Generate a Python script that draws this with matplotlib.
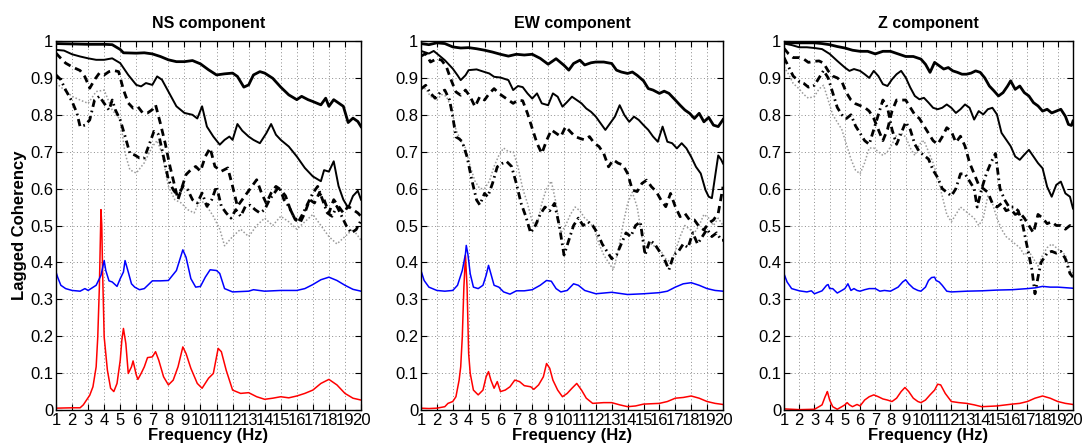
import numpy as np
import matplotlib
matplotlib.use("Agg")
import matplotlib.pyplot as plt
from matplotlib.ticker import FormatStrFormatter

plt.rcParams["font.family"] = ["Liberation Sans", "DejaVu Sans"]

# ---------------- NS component ----------------
ns_top_f = [1, 2, 3, 4, 4.5, 5, 5.2, 6, 6.5, 7, 7.5, 8, 8.5, 9, 9.5, 10, 10.5, 11, 11.5, 12, 12.3, 12.7, 13,
            13.3, 13.7, 14, 14.5, 15, 15.5, 16, 16.3, 16.7, 17, 17.5, 17.8, 18, 18.3, 18.6, 18.9, 19.2, 19.5, 19.8, 20]
ns_top_v = [0.993, 0.992, 0.991, 0.991, 0.99, 0.977, 0.968, 0.967, 0.968, 0.965, 0.958, 0.949, 0.944, 0.944, 0.947,
            0.938, 0.922, 0.908, 0.911, 0.913, 0.904, 0.875, 0.881, 0.908, 0.917, 0.913, 0.899, 0.875, 0.854, 0.841,
            0.85, 0.841, 0.836, 0.827, 0.845, 0.823, 0.841, 0.832, 0.823, 0.779, 0.791, 0.782, 0.768]

ns_sol_f = [1, 1.5, 2, 2.5, 3, 3.5, 4, 4.5, 5, 5.5, 6, 6.3, 6.6, 7, 7.3, 7.6, 8, 8.5, 9, 9.5, 9.8, 10.1, 10.4, 10.8,
            11.2, 11.5, 11.8, 12, 12.3, 12.6, 13, 13.3, 13.7, 14.1, 14.4, 14.7, 15, 15.5, 16, 16.5, 17, 17.5, 17.7,
            18, 18.3, 18.6, 18.9, 19.2, 19.5, 19.8, 20]
ns_sol_v = [0.976, 0.974, 0.964, 0.958, 0.953, 0.949, 0.949, 0.953, 0.94, 0.908, 0.881, 0.877, 0.886, 0.881, 0.904,
            0.895, 0.863, 0.823, 0.805, 0.8, 0.79, 0.823, 0.768, 0.741, 0.719, 0.732, 0.741, 0.732, 0.775, 0.757,
            0.741, 0.732, 0.723, 0.75, 0.775, 0.746, 0.732, 0.714, 0.687, 0.656, 0.633, 0.62, 0.65, 0.646, 0.674,
            0.607, 0.57, 0.548, 0.58, 0.594, 0.57]

ns_dash_f = [1, 1.3, 1.6, 2, 2.5, 2.8, 3.1, 3.4, 3.7, 4, 4.3, 4.6, 4.9, 5.2, 5.5, 5.8, 6.1, 6.4, 6.7, 7, 7.2, 7.5,
             7.8, 8.1, 8.4, 8.6, 8.8, 9.1, 9.4, 9.7, 10, 10.3, 10.6, 10.9, 11.3, 11.7, 12, 12.3, 12.6, 12.9, 13.2,
             13.5, 13.8, 14.1, 14.4, 14.7, 15, 15.3, 15.6, 15.9, 16.2, 16.5, 16.8, 17.1, 17.4, 17.7, 18, 18.3,
             18.6, 18.9, 19.2, 19.5, 19.8, 20]
ns_dash_v = [0.967, 0.953, 0.94, 0.93, 0.92, 0.903, 0.872, 0.895, 0.913, 0.908, 0.917, 0.92, 0.917, 0.868, 0.832,
             0.818, 0.822, 0.805, 0.805, 0.814, 0.827, 0.777, 0.723, 0.66, 0.606, 0.57, 0.597, 0.638, 0.651, 0.66,
             0.647, 0.687, 0.71, 0.66, 0.647, 0.656, 0.606, 0.552, 0.57, 0.588, 0.606, 0.624, 0.588, 0.56, 0.588,
             0.606, 0.597, 0.58, 0.543, 0.516, 0.507, 0.534, 0.57, 0.561, 0.588, 0.57, 0.534, 0.57, 0.552, 0.534,
             0.552, 0.543, 0.534, 0.525]

ns_dd_f = [1, 1.3, 1.6, 2, 2.3, 2.5, 2.8, 3.1, 3.4, 3.7, 4, 4.3, 4.5, 4.7, 5, 5.3, 5.6, 5.9, 6.2, 6.5, 6.8, 7.1,
           7.4, 7.7, 8, 8.3, 8.6, 8.9, 9.2, 9.5, 9.8, 10.1, 10.4, 10.7, 11, 11.3, 11.6, 11.9, 12.2, 12.5, 12.8,
           13.1, 13.4, 13.7, 14, 14.3, 14.6, 14.9, 15.2, 15.5, 15.8, 16.1, 16.4, 16.7, 17, 17.3, 17.6, 17.9, 18.2,
           18.5, 18.8, 19.1, 19.4, 19.7, 20]
ns_dd_v = [0.908, 0.895, 0.867, 0.836, 0.805, 0.768, 0.772, 0.786, 0.84, 0.85, 0.831, 0.813, 0.84, 0.813, 0.786,
           0.742, 0.696, 0.691, 0.683, 0.683, 0.719, 0.755, 0.746, 0.686, 0.624, 0.597, 0.579, 0.606, 0.597, 0.57,
           0.561, 0.588, 0.552, 0.57, 0.606, 0.552, 0.534, 0.52, 0.543, 0.525, 0.552, 0.555, 0.543, 0.534, 0.543,
           0.57, 0.588, 0.606, 0.57, 0.552, 0.525, 0.51, 0.534, 0.561, 0.588, 0.606, 0.57, 0.534, 0.525, 0.552,
           0.525, 0.498, 0.48, 0.489, 0.514]

ns_dot_f = [1, 1.5, 2, 2.5, 3, 3.5, 4, 4.5, 5, 5.3, 5.6, 6, 6.5, 7, 7.3, 7.6, 8, 8.4, 8.8, 9.2, 9.6, 10, 10.4,
            10.8, 11.2, 11.5, 12, 12.5, 13, 13.5, 14, 14.5, 15, 15.5, 16, 16.5, 17, 17.5, 18, 18.5, 19, 19.5, 20]
ns_dot_v = [0.886, 0.868, 0.85, 0.84, 0.831, 0.863, 0.867, 0.813, 0.787, 0.696, 0.651, 0.642, 0.67, 0.714, 0.73,
            0.696, 0.606, 0.57, 0.561, 0.543, 0.534, 0.57, 0.552, 0.525, 0.49, 0.445, 0.47, 0.49, 0.47, 0.5, 0.52,
            0.5, 0.525, 0.51, 0.49, 0.51, 0.53, 0.5, 0.47, 0.45, 0.47, 0.49, 0.46]

ns_blue_f = [1, 1.1, 1.3, 1.6, 2, 2.5, 2.8, 3, 3.5, 3.8, 4, 4.1, 4.3, 4.5, 4.8, 5, 5.2, 5.3, 5.5, 5.7, 5.9, 6.2,
             6.5, 7, 7.5, 8, 8.5, 8.9, 9.1, 9.4, 9.7, 10, 10.3, 10.6, 11, 11.2, 11.5, 12, 13, 13.3, 14, 15, 16, 16.5,
             17, 17.5, 18, 18.5, 19, 19.5, 20]
ns_blue_v = [0.374, 0.36, 0.338, 0.329, 0.324, 0.322, 0.329, 0.324, 0.338, 0.365, 0.405, 0.378, 0.35, 0.347, 0.335,
             0.356, 0.374, 0.405, 0.374, 0.342, 0.333, 0.326, 0.329, 0.35, 0.35, 0.351, 0.378, 0.434, 0.414, 0.356,
             0.333, 0.335, 0.36, 0.38, 0.378, 0.37, 0.329, 0.32, 0.322, 0.326, 0.322, 0.324, 0.324, 0.329, 0.34,
             0.353, 0.36, 0.351, 0.338, 0.327, 0.322]

ns_red_f = [1, 2, 2.5, 2.7, 2.9, 3.1, 3.3, 3.5, 3.6, 3.7, 3.8, 3.85, 3.9, 4, 4.2, 4.4, 4.6, 4.8, 5, 5.1, 5.2, 5.35,
            5.5, 5.7, 5.8, 6, 6.1, 6.3, 6.5, 6.7, 7, 7.2, 7.4, 7.7, 8, 8.3, 8.6, 8.9, 9.1, 9.4, 9.8, 10.1, 10.5,
            10.8, 11.1, 11.3, 11.6, 12, 12.5, 13, 13.5, 14, 14.5, 15, 15.5, 16, 16.5, 17, 17.5, 18, 18.5, 19,
            19.5, 20]
ns_red_v = [0.005, 0.006, 0.006, 0.014, 0.027, 0.04, 0.063, 0.117, 0.198, 0.333, 0.543, 0.5, 0.378, 0.198, 0.108,
            0.059, 0.05, 0.072, 0.135, 0.189, 0.221, 0.18, 0.099, 0.117, 0.133, 0.095, 0.083, 0.099, 0.117, 0.142,
            0.144, 0.158, 0.135, 0.09, 0.068, 0.081, 0.117, 0.171, 0.153, 0.113, 0.072, 0.059, 0.086, 0.099, 0.167,
            0.158, 0.108, 0.054, 0.045, 0.047, 0.036, 0.029, 0.032, 0.036, 0.033, 0.038, 0.045, 0.054, 0.072, 0.083,
            0.068, 0.045, 0.032, 0.027]

# ---------------- EW component ----------------
ew_top_f = [1, 1.5, 2, 2.5, 3, 3.5, 4, 4.5, 5, 5.5, 6, 6.5, 7, 7.5, 8, 8.5, 9, 9.5, 10, 10.3, 10.6, 11, 11.3,
            11.7, 12, 12.5, 13, 13.3, 13.6, 14, 14.3, 14.6, 15, 15.3, 15.6, 16, 16.3, 16.6, 17, 17.3, 17.6, 17.9,
            18.2, 18.5, 18.8, 19.1, 19.4, 19.7, 20]
ew_top_v = [0.993, 0.99, 0.995, 0.993, 0.984, 0.981, 0.982, 0.979, 0.975, 0.97, 0.964, 0.959, 0.964, 0.962, 0.964,
            0.953, 0.937, 0.952, 0.934, 0.921, 0.939, 0.948, 0.935, 0.941, 0.943, 0.943, 0.939, 0.921, 0.916, 0.912,
            0.916, 0.907, 0.892, 0.871, 0.867, 0.858, 0.864, 0.858, 0.84, 0.826, 0.813, 0.804, 0.79, 0.804, 0.781,
            0.793, 0.772, 0.768, 0.787]

ew_sol_f = [1, 1.5, 1.8, 2, 2.5, 3, 3.3, 3.5, 3.8, 4, 4.5, 5, 5.3, 5.6, 6, 6.5, 6.8, 7.1, 7.4, 7.7, 8, 8.3, 8.6, 9,
            9.3, 9.6, 9.9, 10.2, 10.5, 10.8, 11.1, 11.4, 11.7, 12, 12.3, 12.6, 12.9, 13.2, 13.5, 13.8, 14.1, 14.4,
            14.7, 15, 15.3, 15.6, 15.9, 16.2, 16.5, 16.8, 17.1, 17.4, 17.7, 18, 18.3, 18.6, 18.9, 19.1, 19.3,
            19.5, 19.7, 19.9, 20]
ew_sol_v = [0.973, 0.966, 0.973, 0.966, 0.948, 0.925, 0.907, 0.894, 0.907, 0.921, 0.923, 0.916, 0.912, 0.903,
            0.901, 0.894, 0.867, 0.878, 0.875, 0.858, 0.844, 0.858, 0.831, 0.826, 0.858, 0.849, 0.822, 0.835, 0.849,
            0.84, 0.831, 0.817, 0.808, 0.795, 0.777, 0.759, 0.777, 0.795, 0.826, 0.799, 0.781, 0.795, 0.786, 0.772,
            0.759, 0.741, 0.727, 0.768, 0.727, 0.723, 0.709, 0.723, 0.709, 0.686, 0.659, 0.641, 0.596, 0.578,
            0.574, 0.632, 0.69, 0.677, 0.668]

ew_dash_f = [1, 1.3, 1.6, 2, 2.3, 2.6, 2.9, 3.2, 3.5, 3.8, 4.1, 4.4, 4.7, 5, 5.3, 5.6, 5.9, 6.2, 6.5, 6.8, 7.1,
             7.4, 7.7, 8, 8.3, 8.6, 8.9, 9.2, 9.5, 9.8, 10.1, 10.4, 10.7, 11, 11.3, 11.6, 11.9, 12.2, 12.5, 12.8,
             13.1, 13.4, 13.7, 14, 14.3, 14.6, 14.9, 15.2, 15.5, 15.8, 16.1, 16.4, 16.7, 17, 17.3, 17.6, 17.9,
             18.2, 18.5, 18.8, 19.1, 19.4, 19.7, 20]
ew_dash_v = [0.959, 0.966, 0.943, 0.952, 0.948, 0.93, 0.894, 0.862, 0.853, 0.867, 0.849, 0.822, 0.849, 0.84,
             0.858, 0.871, 0.858, 0.849, 0.84, 0.831, 0.84, 0.838, 0.804, 0.763, 0.723, 0.695, 0.73, 0.759, 0.75,
             0.741, 0.768, 0.754, 0.741, 0.736, 0.732, 0.741, 0.723, 0.714, 0.695, 0.659, 0.678, 0.669, 0.664,
             0.641, 0.596, 0.592, 0.614, 0.623, 0.605, 0.592, 0.569, 0.551, 0.587, 0.551, 0.524, 0.533, 0.515,
             0.515, 0.497, 0.488, 0.506, 0.515, 0.533, 0.605]

ew_dd_f = [1, 1.3, 1.6, 1.9, 2.2, 2.5, 2.8, 3, 3.2, 3.4, 3.6, 3.9, 4.2, 4.5, 4.7, 5, 5.2, 5.5, 5.8, 6.1, 6.4, 6.7,
           7, 7.3, 7.6, 7.9, 8.2, 8.5, 8.8, 9.1, 9.4, 9.7, 10, 10.3, 10.6, 10.9, 11.2, 11.5, 11.8, 12.1, 12.4, 12.7,
           13, 13.3, 13.6, 13.9, 14.2, 14.5, 14.8, 15.1, 15.4, 15.7, 16, 16.3, 16.6, 16.9, 17.2, 17.5, 17.8, 18.1,
           18.4, 18.7, 19, 19.3, 19.6, 19.9, 20]
ew_dd_v = [0.87, 0.88, 0.858, 0.845, 0.86, 0.867, 0.84, 0.795, 0.74, 0.735, 0.727, 0.686, 0.623, 0.569, 0.556,
           0.587, 0.578, 0.614, 0.659, 0.668, 0.673, 0.66, 0.614, 0.56, 0.524, 0.48, 0.5, 0.53, 0.55, 0.54, 0.56,
           0.5, 0.42, 0.46, 0.5, 0.52, 0.5, 0.51, 0.5, 0.48, 0.45, 0.43, 0.41, 0.42, 0.45, 0.48, 0.47, 0.5, 0.51,
           0.42, 0.46, 0.45, 0.43, 0.41, 0.38, 0.42, 0.43, 0.45, 0.44, 0.48, 0.45, 0.47, 0.49, 0.47, 0.48, 0.46,
           0.46]

ew_dot_f = [1, 1.3, 1.6, 2, 2.3, 2.6, 2.9, 3.2, 3.5, 3.8, 4.1, 4.4, 4.7, 5, 5.3, 5.6, 5.9, 6.2, 6.5, 6.8, 7.1,
            7.4, 7.7, 8, 8.3, 8.6, 8.9, 9.2, 9.5, 9.8, 10.1, 10.4, 10.7, 11, 11.3, 11.6, 11.9, 12.2, 12.5, 12.8,
            13.1, 13.4, 13.7, 14, 14.3, 14.6, 14.9, 15.2, 15.5, 15.8, 16.1, 16.4, 16.7, 17, 17.3, 17.6, 17.9, 18.2,
            18.5, 18.8, 19.1, 19.4, 19.7, 20]
ew_dot_v = [0.875, 0.87, 0.85, 0.84, 0.855, 0.85, 0.82, 0.76, 0.73, 0.71, 0.66, 0.62, 0.6, 0.6, 0.62, 0.66, 0.69,
            0.71, 0.7, 0.7, 0.66, 0.6, 0.56, 0.51, 0.5, 0.56, 0.6, 0.62, 0.56, 0.48, 0.5, 0.53, 0.55, 0.54, 0.52,
            0.51, 0.49, 0.45, 0.42, 0.4, 0.38, 0.43, 0.5, 0.56, 0.59, 0.55, 0.47, 0.44, 0.45, 0.44, 0.43, 0.41,
            0.4, 0.43, 0.47, 0.5, 0.49, 0.48, 0.5, 0.53, 0.52, 0.5, 0.52, 0.5]

ew_blue_f = [1, 1.2, 1.5, 2, 2.5, 3, 3.3, 3.6, 3.8, 3.85, 3.95, 4.1, 4.3, 4.6, 4.9, 5.1, 5.25, 5.4, 5.6, 5.9, 6.2,
             6.6, 7, 7.5, 8, 8.5, 8.9, 9.2, 9.5, 9.8, 10.2, 10.6, 10.9, 11.3, 12, 13, 14, 15, 16, 16.5, 17, 17.5,
             18, 18.5, 19, 19.5, 20]
ew_blue_v = [0.378, 0.351, 0.333, 0.324, 0.322, 0.324, 0.338, 0.378, 0.423, 0.446, 0.423, 0.369, 0.333, 0.329,
             0.338, 0.365, 0.392, 0.369, 0.338, 0.333, 0.32, 0.314, 0.323, 0.323, 0.326, 0.338, 0.351, 0.349, 0.329,
             0.32, 0.324, 0.342, 0.338, 0.324, 0.315, 0.319, 0.313, 0.315, 0.318, 0.322, 0.333, 0.342, 0.345, 0.338,
             0.329, 0.324, 0.322]

ew_red_f = [1, 1.5, 2, 2.5, 2.7, 3, 3.2, 3.4, 3.5, 3.6, 3.7, 3.8, 3.9, 4, 4.1, 4.3, 4.6, 4.9, 5.1, 5.25, 5.4, 5.6,
            5.8, 6, 6.3, 6.6, 6.9, 7.2, 7.5, 7.9, 8.1, 8.4, 8.7, 8.9, 9.1, 9.3, 9.6, 9.9, 10.2, 10.5, 10.8, 11.1,
            11.4, 11.8, 12.5, 13, 13.5, 14, 14.5, 15, 16, 16.5, 17, 17.5, 18, 18.5, 19, 19.5, 20]
ew_red_v = [0.005, 0.004, 0.005, 0.009, 0.018, 0.023, 0.036, 0.081, 0.117, 0.198, 0.333, 0.419, 0.333, 0.153,
            0.099, 0.054, 0.041, 0.054, 0.09, 0.104, 0.081, 0.059, 0.077, 0.05, 0.054, 0.063, 0.081, 0.077, 0.066,
            0.063, 0.056, 0.068, 0.09, 0.126, 0.113, 0.081, 0.054, 0.036, 0.045, 0.059, 0.072, 0.054, 0.032,
            0.018, 0.02, 0.02, 0.014, 0.009, 0.011, 0.016, 0.018, 0.023, 0.032, 0.034, 0.038, 0.032, 0.023, 0.018,
            0.015]

# ---------------- Z component ----------------
z_top_f = [1, 2, 3, 3.5, 4, 4.5, 5, 5.5, 6, 6.5, 7, 7.5, 8, 8.5, 9, 9.5, 10, 10.3, 10.6, 10.9, 11.2, 11.5, 11.8,
           12.1, 12.4, 12.7, 13, 13.3, 13.6, 13.9, 14.2, 14.5, 14.8, 15.1, 15.4, 15.7, 15.9, 16.2, 16.5, 16.8, 17.1,
           17.4, 17.7, 18, 18.3, 18.6, 18.9, 19.2, 19.5, 19.7, 19.9, 20]
z_top_v = [0.995, 0.995, 0.995, 0.993, 0.99, 0.985, 0.981, 0.975, 0.972, 0.972, 0.965, 0.972, 0.972, 0.965, 0.958,
           0.958, 0.951, 0.937, 0.915, 0.942, 0.933, 0.924, 0.928, 0.919, 0.915, 0.91, 0.91, 0.913, 0.919, 0.915,
           0.9, 0.878, 0.865, 0.851, 0.86, 0.878, 0.892, 0.869, 0.878, 0.86, 0.851, 0.833, 0.824, 0.81, 0.815,
           0.805, 0.81, 0.815, 0.796, 0.774, 0.771, 0.783]

z_sol_f = [1, 1.5, 2, 2.5, 3, 3.5, 4, 4.5, 5, 5.3, 5.6, 6, 6.3, 6.6, 6.9, 7.2, 7.5, 7.8, 8.1, 8.4, 8.7, 9, 9.3,
           9.6, 9.9, 10.2, 10.5, 10.8, 11.1, 11.4, 11.7, 12, 12.3, 12.6, 12.9, 13.2, 13.5, 13.8, 14.1, 14.4, 14.7,
           15, 15.3, 15.6, 15.9, 16.2, 16.5, 16.8, 17.1, 17.4, 17.7, 18, 18.3, 18.6, 18.9, 19.2, 19.5, 19.8, 20]
z_sol_v = [0.993, 0.989, 0.983, 0.983, 0.981, 0.978, 0.965, 0.946, 0.928, 0.919, 0.924, 0.919, 0.91, 0.9, 0.919,
           0.905, 0.883, 0.878, 0.896, 0.91, 0.919, 0.901, 0.874, 0.851, 0.842, 0.846, 0.833, 0.819, 0.815, 0.819,
           0.828, 0.819, 0.805, 0.815, 0.828, 0.819, 0.787, 0.81, 0.801, 0.815, 0.819, 0.801, 0.751, 0.733, 0.715,
           0.687, 0.678, 0.692, 0.705, 0.687, 0.669, 0.655, 0.605, 0.578, 0.61, 0.619, 0.587, 0.578, 0.546]

z_dash_f = [1, 1.3, 1.6, 2, 2.3, 2.6, 3, 3.3, 3.6, 3.9, 4.2, 4.5, 4.8, 5.1, 5.4, 5.7, 6, 6.3, 6.6, 6.9, 7.2, 7.5,
            7.8, 8.1, 8.4, 8.7, 9, 9.3, 9.6, 9.9, 10.2, 10.5, 10.8, 11.1, 11.4, 11.7, 12, 12.3, 12.6, 12.9, 13.2,
            13.5, 13.8, 14.1, 14.4, 14.7, 15, 15.3, 15.6, 15.9, 16.2, 16.5, 16.8, 17.1, 17.4, 17.7, 18, 18.3,
            18.6, 18.9, 19.2, 19.5, 19.8, 20]
z_dash_v = [0.98, 0.965, 0.955, 0.955, 0.951, 0.942, 0.945, 0.946, 0.94, 0.919, 0.905, 0.9, 0.89, 0.86, 0.84, 0.83,
            0.825, 0.82, 0.81, 0.79, 0.76, 0.73, 0.76, 0.81, 0.84, 0.84, 0.84, 0.82, 0.8, 0.79, 0.77, 0.75, 0.73,
            0.72, 0.74, 0.765, 0.755, 0.725, 0.742, 0.715, 0.67, 0.64, 0.61, 0.6, 0.59, 0.56, 0.55, 0.56, 0.54,
            0.545, 0.53, 0.535, 0.52, 0.5, 0.48, 0.53, 0.52, 0.505, 0.51, 0.5, 0.5, 0.49, 0.5, 0.49]

z_dd_f = [1, 1.3, 1.6, 2, 2.3, 2.6, 3, 3.3, 3.6, 3.9, 4.2, 4.5, 4.8, 5.1, 5.4, 5.7, 6, 6.3, 6.6, 6.9, 7.2, 7.5,
          7.8, 8.1, 8.4, 8.7, 9, 9.3, 9.6, 9.9, 10.2, 10.5, 10.8, 11.1, 11.4, 11.7, 12, 12.3, 12.6, 12.9, 13.2,
          13.5, 13.7, 14, 14.3, 14.6, 14.9, 15.2, 15.5, 15.8, 16.1, 16.4, 16.7, 17, 17.3, 17.5, 17.7, 17.9, 18.3,
          18.6, 18.9, 19.2, 19.5, 19.8, 20]
z_dd_v = [0.955, 0.93, 0.905, 0.89, 0.885, 0.875, 0.88, 0.9, 0.92, 0.9, 0.86, 0.82, 0.8, 0.79, 0.8, 0.77, 0.75,
          0.73, 0.72, 0.76, 0.8, 0.84, 0.82, 0.76, 0.72, 0.75, 0.78, 0.76, 0.72, 0.7, 0.69, 0.68, 0.65, 0.63, 0.6,
          0.59, 0.58, 0.6, 0.64, 0.64, 0.62, 0.6, 0.55, 0.6, 0.64, 0.67, 0.695, 0.6, 0.57, 0.55, 0.55, 0.54, 0.5,
          0.44, 0.38, 0.315, 0.36, 0.4, 0.425, 0.43, 0.425, 0.43, 0.41, 0.37, 0.36]

z_dot_f = [1, 1.3, 1.6, 2, 2.3, 2.6, 3, 3.3, 3.6, 3.9, 4.2, 4.5, 4.8, 5.1, 5.4, 5.7, 6, 6.3, 6.6, 6.9, 7.2, 7.5,
           7.8, 8.1, 8.4, 8.7, 9, 9.3, 9.6, 9.9, 10.2, 10.5, 10.8, 11.1, 11.4, 11.7, 12, 12.3, 12.6, 12.9, 13.2,
           13.5, 13.8, 14.1, 14.4, 14.7, 15, 15.3, 15.6, 15.9, 16.2, 16.5, 16.8, 17.1, 17.4, 17.7, 18, 18.3, 18.6,
           18.9, 19.2, 19.5, 19.8, 20]
z_dot_v = [0.93, 0.91, 0.885, 0.87, 0.855, 0.845, 0.85, 0.87, 0.88, 0.84, 0.8, 0.78, 0.76, 0.72, 0.68, 0.65, 0.64,
           0.67, 0.71, 0.71, 0.7, 0.69, 0.7, 0.72, 0.745, 0.75, 0.74, 0.71, 0.69, 0.72, 0.73, 0.7, 0.67, 0.63,
           0.58, 0.53, 0.51, 0.53, 0.55, 0.54, 0.53, 0.52, 0.5, 0.52, 0.58, 0.56, 0.52, 0.49, 0.47, 0.46, 0.45,
           0.44, 0.42, 0.43, 0.41, 0.39, 0.42, 0.44, 0.45, 0.44, 0.43, 0.42, 0.38, 0.37]

z_blue_f = [1, 1.2, 1.5, 2, 2.5, 2.8, 3, 3.5, 3.8, 3.9, 4, 4.2, 4.5, 4.8, 5, 5.2, 5.4, 5.6, 5.8, 6, 6.3, 6.6, 7,
            7.3, 7.6, 8, 8.5, 8.8, 9, 9.2, 9.5, 9.8, 10, 10.3, 10.5, 10.7, 10.9, 11, 11.2, 11.4, 11.7, 12, 13, 14,
            15, 16, 17, 17.5, 18, 18.5, 19, 20]
z_blue_v = [0.369, 0.347, 0.329, 0.323, 0.32, 0.323, 0.315, 0.323, 0.338, 0.34, 0.329, 0.329, 0.317, 0.324, 0.329,
            0.342, 0.324, 0.329, 0.324, 0.322, 0.326, 0.329, 0.329, 0.322, 0.324, 0.322, 0.333, 0.347, 0.353, 0.342,
            0.33, 0.324, 0.322, 0.333, 0.351, 0.359, 0.36, 0.351, 0.347, 0.338, 0.322, 0.32, 0.322, 0.323, 0.325,
            0.326, 0.329, 0.331, 0.335, 0.333, 0.333, 0.33]

z_red_f = [1, 2, 3, 3.3, 3.5, 3.7, 3.8, 3.85, 4, 4.2, 4.5, 4.8, 5, 5.15, 5.3, 5.5, 5.8, 6, 6.3, 6.6, 6.9, 7.2, 7.5,
           7.8, 8.1, 8.4, 8.7, 8.95, 9.2, 9.5, 9.8, 10, 10.3, 10.6, 10.9, 11.1, 11.3, 11.6, 12, 12.5, 13, 13.5, 14,
           15, 16, 16.5, 17, 17.5, 18, 18.5, 19, 19.5, 20]
z_red_v = [0.003, 0.001, 0.002, 0.009, 0.014, 0.036, 0.045, 0.05, 0.027, 0.009, 0.002, 0.009, 0.014, 0.02, 0.014,
           0.009, 0.015, 0.011, 0.027, 0.036, 0.041, 0.036, 0.03, 0.027, 0.023, 0.032, 0.05, 0.061, 0.05, 0.032,
           0.023, 0.02, 0.027, 0.041, 0.054, 0.07, 0.068, 0.045, 0.023, 0.02, 0.018, 0.014, 0.009, 0.011, 0.016,
           0.018, 0.023, 0.032, 0.038, 0.032, 0.023, 0.018, 0.015]

panels = [
    ("NS component", 0.0514, 0.2798,
     [(ns_top_f, ns_top_v), (ns_sol_f, ns_sol_v), (ns_dash_f, ns_dash_v), (ns_dd_f, ns_dd_v),
      (ns_dot_f, ns_dot_v), (ns_blue_f, ns_blue_v), (ns_red_f, ns_red_v)]),
    ("EW component", 0.3862, 0.2771,
     [(ew_top_f, ew_top_v), (ew_sol_f, ew_sol_v), (ew_dash_f, ew_dash_v), (ew_dd_f, ew_dd_v),
      (ew_dot_f, ew_dot_v), (ew_blue_f, ew_blue_v), (ew_red_f, ew_red_v)]),
    ("Z component", 0.7193, 0.2651,
     [(z_top_f, z_top_v), (z_sol_f, z_sol_v), (z_dash_f, z_dash_v), (z_dd_f, z_dd_v),
      (z_dot_f, z_dot_v), (z_blue_f, z_blue_v), (z_red_f, z_red_v)]),
]

# line styles: thick solid, solid, dashed, dash-dot, dotted gray, blue, red
styles = [
    dict(color="black", lw=2.0, ls="-"),
    dict(color="black", lw=1.4, ls="-"),
    dict(color="black", lw=2.0, ls=(0, (2.6, 1.8))),
    dict(color="black", lw=2.0, ls=(0, (2.6, 1.4, 0.6, 1.4))),
    dict(color="#9a9a9a", lw=1.1, ls=(0, (1, 1.3))),
    dict(color="#0000ff", lw=1.1, ls="-"),
    dict(color="#ff0000", lw=1.1, ls="-"),
]

fig = plt.figure(figsize=(10.9, 4.48), dpi=100)

for i, (title, left, width, curves) in enumerate(panels):
    ax = fig.add_axes([left, 0.0848, width, 0.8237])
    # draw from back to front so the black lines sit on top of the gray
    for (f, v), st in zip(curves[::-1], styles[::-1]):
        ax.plot(f, v, **st)
    ax.set_xlim(1, 20)
    ax.set_ylim(0, 1)
    ax.set_xticks(range(1, 21))
    ax.set_yticks(np.arange(0, 1.01, 0.1))
    ax.yaxis.set_major_formatter(FormatStrFormatter("%g"))
    ax.grid(True, color="#8c8c8c", ls=(0, (1, 2.5)), lw=0.7)
    ax.tick_params(direction="in", top=True, right=True, labelsize=12, length=4, width=0.8, pad=2)
    for s in ax.spines.values():
        s.set_linewidth(1.0)
    ax.set_title(title, fontsize=11.5, fontweight="bold", pad=9)
    ax.set_xlabel("Frequency (Hz)", fontsize=12, fontweight="bold", labelpad=0)
    if i == 0:
        ax.set_ylabel("Lagged Coherency", fontsize=12, fontweight="bold", labelpad=2)

fig.savefig("out.png", dpi=100)
